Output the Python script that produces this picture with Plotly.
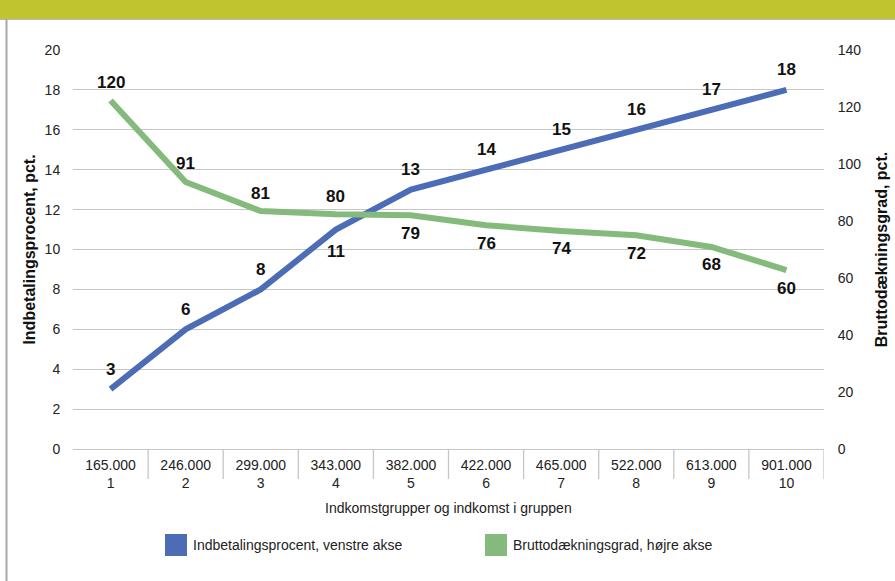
import plotly.graph_objects as go

# ---- data ----
incomes = ["165.000", "246.000", "299.000", "343.000", "382.000",
           "422.000", "465.000", "522.000", "613.000", "901.000"]
groups = ["1", "2", "3", "4", "5", "6", "7", "8", "9", "10"]
indbetaling = [3, 6, 8, 11, 13, 14, 15, 16, 17, 18]
indbetaling_labels = ["3", "6", "8", "11", "13", "14", "15", "16", "17", "18"]
indbetaling_above = [True, True, True, False, True, True, True, True, True, True]
brutto = [122.3, 93.7, 83.5, 82.4, 82.0, 78.5, 76.5, 75.0, 70.9, 62.8]
brutto_labels = ["120", "91", "81", "80", "79", "76", "74", "72", "68", "60"]
brutto_above = [True, True, True, True, False, False, False, False, False, False]

cats = [f"{a}<br>{b}" for a, b in zip(incomes, groups)]

BLUE = "#4d6cb6"
GREEN = "#84ba7c"
GRID = "#c6c6c6"
FONT = "Liberation Sans, Arial, sans-serif"

W, H = 895, 581
L, R, T, B = 73, 824, 50, 449


def px(x):
    return (x - L) / (R - L)


def py(y):
    return (B - y) / (B - T)


fig = go.Figure()
fig.add_trace(go.Scatter(x=cats, y=indbetaling, mode="lines",
                         line=dict(color=BLUE, width=6), showlegend=False,
                         yaxis="y"))
fig.add_trace(go.Scatter(x=cats, y=brutto, mode="lines",
                         line=dict(color=GREEN, width=6), showlegend=False,
                         yaxis="y2"))

annotations = []
for c, v, t, up in zip(cats, indbetaling, indbetaling_labels, indbetaling_above):
    annotations.append(dict(x=c, y=v, xref="x", yref="y", text=f"<b>{t}</b>",
                            showarrow=False, yshift=20 if up else -22,
                            font=dict(family=FONT, size=17, color="#111"),
                            xanchor="center", yanchor="middle"))
for c, v, t, up in zip(cats, brutto, brutto_labels, brutto_above):
    annotations.append(dict(x=c, y=v, xref="x", yref="y2", text=f"<b>{t}</b>",
                            showarrow=False, yshift=18 if up else -18,
                            font=dict(family=FONT, size=17, color="#111"),
                            xanchor="center", yanchor="middle"))

# x-axis title
annotations.append(dict(x=0.5, y=py(508), xref="paper", yref="paper",
                        text="Indkomstgrupper og indkomst i gruppen", showarrow=False,
                        font=dict(family=FONT, size=14, color="#222"),
                        xanchor="center", yanchor="middle"))

# legend (manual)
legend_items = [("Indbetalingsprocent, venstre akse", BLUE, 165),
                ("Bruttodækningsgrad, højre akse", GREEN, 485)]
shapes = []
for name, col, x0 in legend_items:
    shapes.append(dict(type="rect", xref="paper", yref="paper",
                       x0=px(x0), x1=px(x0 + 22), y0=py(556), y1=py(534),
                       fillcolor=col, line=dict(width=0)))
    annotations.append(dict(x=px(x0 + 26), y=py(545), xref="paper", yref="paper",
                            text=name, showarrow=False,
                            font=dict(family=FONT, size=14, color="#222"),
                            xanchor="left", yanchor="middle"))

# category dividers below the axis
for i in range(1, len(cats) + 1):
    shapes.append(dict(type="line", xref="x", yref="paper",
                       x0=i - 0.5, x1=i - 0.5, y0=0, y1=py(479),
                       line=dict(color=GRID, width=1.3)))

# top band and left border
shapes.append(dict(type="rect", xref="paper", yref="paper",
                   x0=px(0), x1=px(W), y0=py(19), y1=py(-2),
                   fillcolor="#c0c52f", line=dict(width=0), layer="below"))
shapes.append(dict(type="line", xref="paper", yref="paper",
                   x0=px(0), x1=px(W), y0=py(19.5), y1=py(19.5),
                   line=dict(color="#b8b8b8", width=1)))
shapes.append(dict(type="line", xref="paper", yref="paper",
                   x0=px(6.5), x1=px(6.5), y0=py(19), y1=py(H + 2),
                   line=dict(color="#a8a8a8", width=2)))

fig.update_layout(
    width=W, height=H,
    margin=dict(l=L, r=W - R, t=T, b=H - B, autoexpand=False),
    paper_bgcolor="white", plot_bgcolor="white",
    font=dict(family=FONT, size=14, color="#222"),
    showlegend=False,
    xaxis=dict(type="category", categoryorder="array", categoryarray=cats,
               showgrid=False, showline=True, linecolor=GRID, linewidth=1.3,
               ticks="", ticklabelstandoff=3, tickfont=dict(size=14, color="#222"),
               range=[-0.5, len(cats) - 0.5], fixedrange=True, automargin=False),
    yaxis=dict(range=[0, 20], dtick=2, showgrid=True, gridcolor=GRID, gridwidth=1.3,
               zeroline=False, showline=False, ticks="outside", ticklen=9,
               tickcolor="rgba(0,0,0,0)", tickfont=dict(size=14, color="#222"),
               title=dict(text="<b>Indbetalingsprocent, pct.</b>", standoff=5,
                          font=dict(size=16, color="#111")),
               automargin=False),
    yaxis2=dict(range=[0, 140], dtick=20, overlaying="y", side="right",
                showgrid=False, zeroline=False, showline=False, ticks="outside",
                ticklen=10, tickcolor="rgba(0,0,0,0)",
                tickfont=dict(size=14, color="#222"),
                title=dict(text="<b>Bruttodækningsgrad, pct.</b>", standoff=15,
                           font=dict(size=16, color="#111")),
                automargin=False),
    annotations=annotations,
    shapes=shapes,
)

fig.write_html("out.html")
